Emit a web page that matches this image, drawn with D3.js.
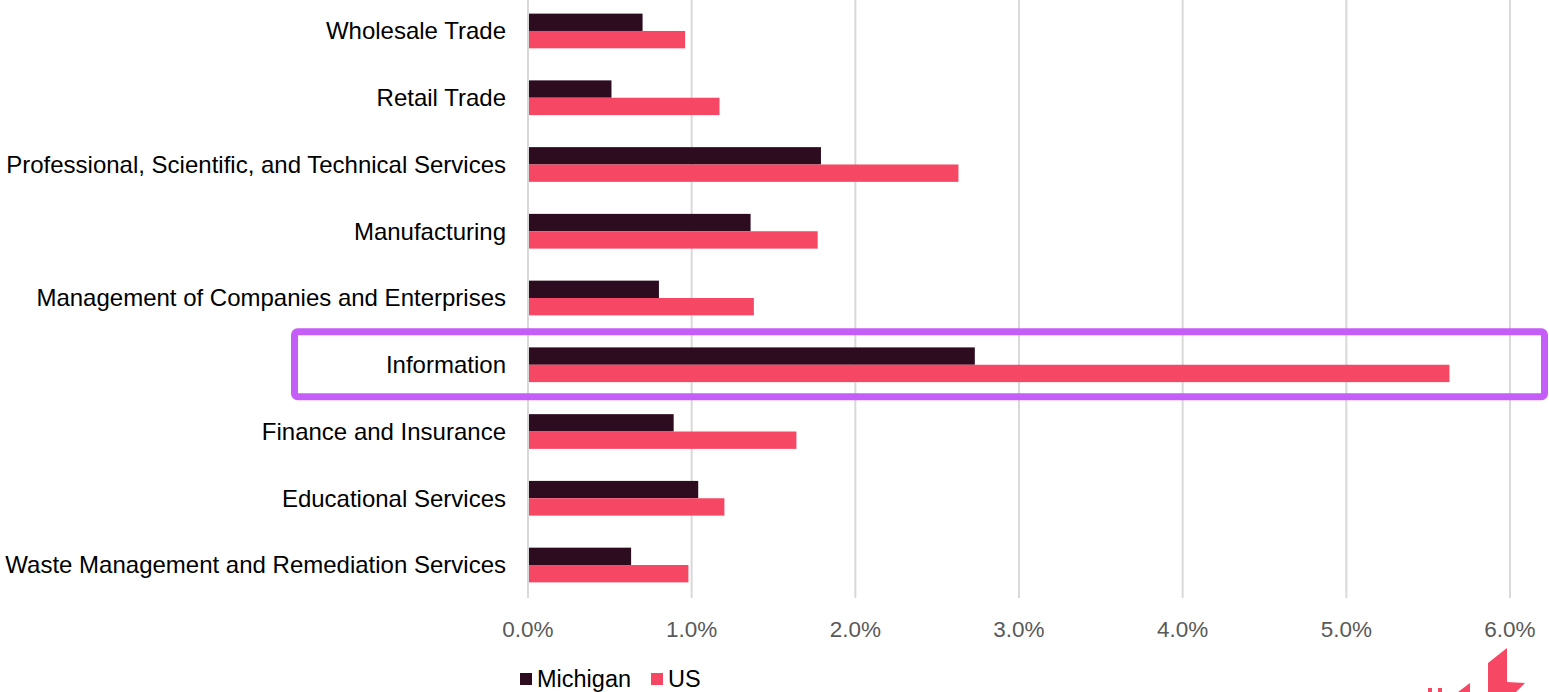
<!DOCTYPE html>
<html>
<head>
<meta charset="utf-8">
<script src="https://cdn.jsdelivr.net/npm/d3@7"></script>
<style>
  body { margin: 0; background: #fff; }
  svg text { font-family: "Liberation Sans", Arial, sans-serif; }
</style>
</head>
<body>
<div class="container"></div>
<script>
"use strict";

var width = 1549;
var height = 692;

// industries, top to bottom
var categories = [
    "Wholesale Trade",
    "Retail Trade",
    "Professional, Scientific, and Technical Services",
    "Manufacturing",
    "Management of Companies and Enterprises",
    "Information",
    "Finance and Insurance",
    "Educational Services",
    "Waste Management and Remediation Services"
];

var michigan = [0.0070, 0.0051, 0.0179, 0.0136, 0.0080, 0.0273, 0.0089, 0.0104, 0.0063];
var us = [0.0096, 0.0117, 0.0263, 0.0177, 0.0138, 0.0563, 0.0164, 0.0120, 0.0098];

var seriesNames = ["Michigan", "US"];
var seriesColors = ["#2e0c20", "#f64764"];
var tickValues = [0, 0.01, 0.02, 0.03, 0.04, 0.05, 0.06];

var highlighted = "Information";

var x = d3.scaleLinear().domain([0, 0.06]).range([528, 1510]);
var y = d3.scaleBand().domain(categories).range([-2.4, 598.4]).paddingInner(0.48).paddingOuter(0.24);
var ySeries = d3.scaleBand().domain(seriesNames).range([0, y.bandwidth()]);

var svg = d3.select(".container").append("svg")
    .attr("width", width)
    .attr("height", height);

// gridlines
svg.append("g")
    .selectAll("line")
    .data(tickValues)
    .enter().append("line")
    .attr("x1", d => x(d)).attr("x2", d => x(d))
    .attr("y1", 0).attr("y2", 598)
    .attr("stroke", "#d9d9d9")
    .attr("stroke-width", 2);

// tick labels
svg.append("g")
    .selectAll("text")
    .data(tickValues)
    .enter().append("text")
    .attr("x", d => x(d))
    .attr("y", 637)
    .attr("text-anchor", "middle")
    .attr("font-size", 22.5)
    .attr("fill", "#595959")
    .text(d3.format(".1%"));

// bars
var rows = categories.map((c, i) => ({cat: c, values: [michigan[i], us[i]]}));

var groups = svg.append("g")
    .selectAll("g")
    .data(rows)
    .enter().append("g")
    .attr("transform", d => `translate(0,${y(d.cat)})`);

groups.selectAll("rect")
    .data(d => d.values.map((v, j) => ({name: seriesNames[j], value: v, color: seriesColors[j]})))
    .enter().append("rect")
    .attr("x", x(0) + 1)
    .attr("y", d => ySeries(d.name))
    .attr("width", d => x(d.value) - x(0) - 1)
    .attr("height", ySeries.bandwidth())
    .attr("fill", d => d.color);

// category labels
svg.append("g")
    .selectAll("text")
    .data(categories)
    .enter().append("text")
    .attr("x", 506)
    .attr("y", d => y(d) + y.bandwidth() / 2)
    .attr("dy", "0.35em")
    .attr("text-anchor", "end")
    .attr("font-size", 24)
    .attr("fill", "#000")
    .text(d => d);

// highlight box round the Information row
var hy = y(highlighted) + y.bandwidth() / 2;
svg.append("rect")
    .attr("x", 294.5)
    .attr("y", hy - 33)
    .attr("width", 1250)
    .attr("height", 65)
    .attr("rx", 3)
    .attr("fill", "none")
    .attr("stroke", "#c55ef8")
    .attr("stroke-width", 7);

// legend
var legend = svg.append("g")
    .selectAll("g")
    .data(seriesNames)
    .enter().append("g")
    .attr("transform", (d, i) => `translate(${i === 0 ? 520 : 651},673)`);

legend.append("rect")
    .attr("width", 12).attr("height", 12)
    .attr("fill", (d, i) => seriesColors[i]);

legend.append("text")
    .attr("x", 17)
    .attr("y", 14)
    .attr("font-size", 23.5)
    .attr("fill", "#000")
    .text(d => d);

// corner logo, cut off by the bottom edge
var logo = svg.append("g").attr("fill", "#f64764");
logo.append("path")
    .attr("d", "M1488,663 L1507,648 L1507,682 L1525,683 L1516,692 L1488,692 Z");
logo.append("path")
    .attr("d", "M1458,692 L1470,683 L1470,692 Z");
logo.append("path")
    .attr("d", "M1428,688 L1432,688 L1432,692 L1428,692 Z M1438,688 L1442,688 L1442,692 L1438,692 Z");
</script>
</body>
</html>
